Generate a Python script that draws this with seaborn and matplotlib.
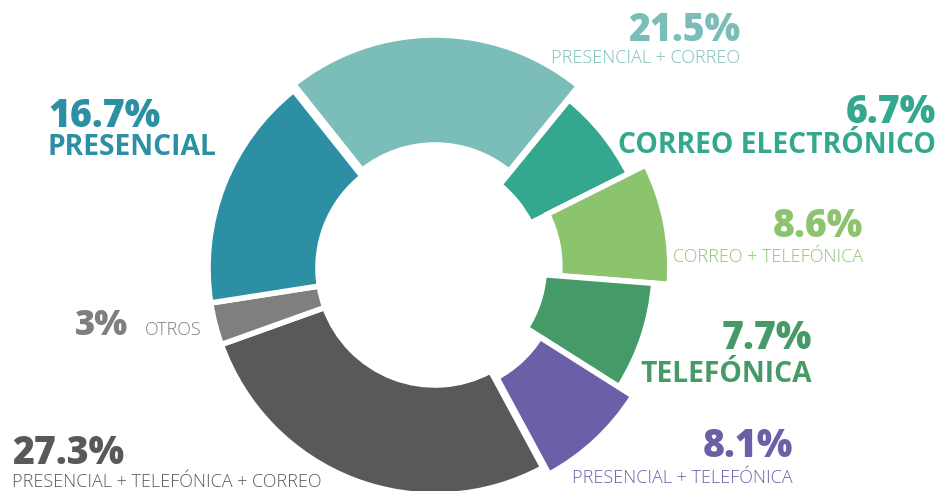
import matplotlib.pyplot as plt
import seaborn as sns

# canales de atención (orden horario desde arriba)
shares = [21.5, 6.7, 8.6, 7.7, 8.1, 27.3, 3, 16.7]
pct_labels = ['21.5%', '6.7%', '8.6%', '7.7%', '8.1%', '27.3%', '3%', '16.7%']
names = ['PRESENCIAL + CORREO', 'CORREO ELECTRÓNICO', 'CORREO + TELEFÓNICA',
         'TELEFÓNICA', 'PRESENCIAL + TELEFÓNICA',
         'PRESENCIAL + TELEFÓNICA + CORREO', 'OTROS', 'PRESENCIAL']

colors = ['#7bbdb8', '#33a88e', '#8cc46e', '#459a68', '#6a60a8',
          '#595959', '#7f7f7f', '#2c8fa3']
offsets = [6, -12, 8, -8, 9, 0, 0, 0]

sns.set_theme(style='white')
plt.rcParams['font.family'] = ['Open Sans', 'DejaVu Sans']

fig = plt.figure(figsize=(9.37, 4.91), dpi=100)
ax = fig.add_axes([0, 0, 1, 1])
ax.pie(shares, colors=colors, explode=offsets, startangle=128.5,
       counterclock=False, radius=227, center=(435, -268),
       wedgeprops=dict(width=110, edgecolor='white', linewidth=4))
ax.set_xlim(0, 937)
ax.set_ylim(-491, 0)
ax.axis('off')

big = 27
bold = 20.3
light = 13

# (x, y_pct, y_name, ha, bold name?)
layout = [
    (740, 41, 63, 'right', False),
    (936, 123, 153, 'right', True),
    (863, 237, 262, 'right', False),
    (812, 349, 382, 'right', True),
    (793, 457, 483, 'right', False),
    (12, 464, 487, 'left', False),
    (None, None, None, None, None),
    (48, 127, 155, 'left', True),
]

for i, (x, yp, yn, ha, is_bold) in enumerate(layout):
    if x is None:
        continue
    ax.text(x, -yp, pct_labels[i], color=colors[i], fontsize=big,
            fontweight='heavy', ha=ha, va='baseline')
    ax.text(x, -yn, names[i], color=colors[i],
            fontsize=bold if is_bold else light,
            fontweight='bold' if is_bold else 'light', ha=ha, va='baseline')

# 3% otros en una sola línea
ax.text(128, -335, pct_labels[6], color=colors[6], fontsize=25,
        fontweight='heavy', ha='right', va='baseline')
ax.text(145, -335, names[6], color=colors[6], fontsize=light,
        fontweight='light', ha='left', va='baseline')

plt.savefig('out.png', dpi=100)
plt.close()
